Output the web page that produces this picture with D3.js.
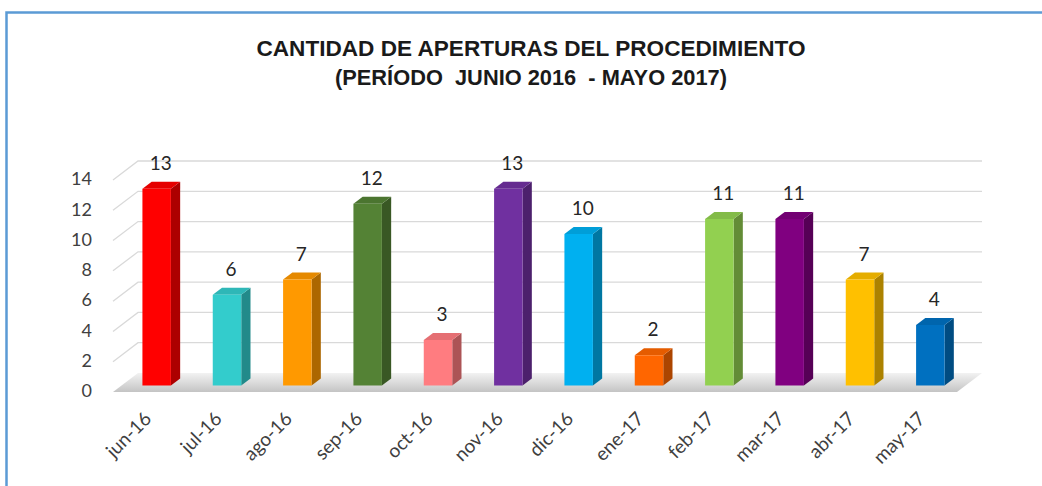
<!DOCTYPE html>
<html>
<head>
<meta charset="utf-8">
<script src="https://cdn.jsdelivr.net/npm/d3@7"></script>
<style>
  body { margin: 0; background: #fff; }
  svg { display: block; }
</style>
</head>
<body>
<script>
// data
var months = ["jun-16","jul-16","ago-16","sep-16","oct-16","nov-16",
              "dic-16","ene-17","feb-17","mar-17","abr-17","may-17"];
var aperturas = [13, 6, 7, 12, 3, 13, 10, 2, 11, 11, 7, 4];
var yTicks = [0, 2, 4, 6, 8, 10, 12, 14];
var barColors = ["#FF0000","#33CCCC","#FF9900","#548235","#FF7C80","#7030A0",
                 "#00B0F0","#FF6600","#92D050","#800080","#FFC000","#0070C0"];
var titleLines = ["CANTIDAD DE APERTURAS DEL PROCEDIMIENTO",
                  "(PERÍODO  JUNIO 2016  - MAYO 2017)"];

var w = 1042, h = 486;
// floor: front-left corner, width, depth vector (front -> back)
var fx = 113, fy = 392, floorW = 844, depX = 25, depY = -19;
var dFront = 0.34, dBack = 0.71; // bar depth position

var svg = d3.select("body").append("svg")
    .attr("width", w)
    .attr("height", h);

svg.append("rect").attr("width", w).attr("height", h).attr("fill", "#fff");

// blue frame
svg.append("path")
    .attr("d", "M6.5," + h + "V12.5H" + w)
    .attr("fill", "none")
    .attr("stroke", "#5B9BD5")
    .attr("stroke-width", 2.5);

// title
svg.selectAll("text.title")
    .data(titleLines)
    .enter().append("text")
    .attr("class", "title")
    .attr("x", 531)
    .attr("y", function(d, i){ return 56 + i*28.5; })
    .attr("text-anchor", "middle")
    .attr("textLength", function(d, i){ return i == 0 ? 549 : 392; })
    .attr("lengthAdjust", "spacingAndGlyphs")
    .style("white-space", "pre")
    .style("font-family", "'Liberation Sans Narrow','Liberation Sans',Arial,sans-serif")
    .style("font-weight", "bold")
    .style("font-size", "22px")
    .style("fill", "#1a1a1a")
    .text(function(d){ return d; });

// scales
var hgt = d3.scaleLinear().domain([0, 14]).range([0, 212]);
var yFront = d3.scaleLinear().domain([0, 14]).range([fy, fy - 212]);
var x = d3.scaleBand().domain(months).range([0, floorW]).padding(0);
var barW = x.bandwidth() * 0.405;

function pt(u, d, v) { // u along x, d depth 0..1, v value height
    return [fx + u + depX*d, fy + depY*d - hgt(v)];
}

// floor
var defs = svg.append("defs");
var grad = defs.append("linearGradient").attr("id", "floorg")
    .attr("x1", 0).attr("y1", 0).attr("x2", 0).attr("y2", 1);
grad.append("stop").attr("offset", "0%").attr("stop-color", "#F2F2F2");
grad.append("stop").attr("offset", "55%").attr("stop-color", "#D9D9D9");
grad.append("stop").attr("offset", "100%").attr("stop-color", "#C4C4C4");

var floorPts = [pt(0,0,0), pt(floorW,0,0), pt(floorW,1,0), pt(0,1,0)];
svg.append("path")
    .attr("d", "M" + floorPts.join("L") + "Z")
    .attr("fill", "url(#floorg)");

// gridlines: side wall diagonal + back wall
var grid = svg.append("g").attr("stroke", "#D9D9D9").attr("stroke-width", 1.3).attr("fill", "none");
grid.selectAll("path")
    .data(yTicks.slice(1))
    .enter().append("path")
    .attr("d", function(v){
        return "M" + [pt(0,0,v), pt(0,1,v), pt(floorW,1,v)].join("L");
    });

// y axis labels
var yAxis = svg.append("g")
    .attr("transform", "translate(92,-1)")
    .call(d3.axisLeft(yFront).tickValues(yTicks).tickSize(0).tickPadding(0));
yAxis.select(".domain").remove();
yAxis.selectAll("text")
    .style("font-family", "Lato, 'Open Sans', sans-serif")
    .style("font-size", "18px")
    .style("fill", "#404040");

// bars
var bars = svg.selectAll("g.bar")
    .data(months.map(function(m, i){ return {m: m, v: aperturas[i], c: barColors[i]}; }))
    .enter().append("g").attr("class", "bar");

function barX0(d) { return x(d.m) + (x.bandwidth() - barW) / 2; }

// side face
bars.append("path")
    .attr("fill", function(d){ return d3.color(d.c).darker(1.1); })
    .attr("d", function(d){
        var u = barX0(d) + barW;
        return "M" + [pt(u,dFront,0), pt(u,dBack,0), pt(u,dBack,d.v), pt(u,dFront,d.v)].join("L") + "Z";
    });
// top face
bars.append("path")
    .attr("fill", function(d){ return d3.color(d.c).darker(0.3); })
    .attr("d", function(d){
        var u = barX0(d);
        return "M" + [pt(u,dFront,d.v), pt(u+barW,dFront,d.v), pt(u+barW,dBack,d.v), pt(u,dBack,d.v)].join("L") + "Z";
    });
// front face
bars.append("path")
    .attr("fill", function(d){ return d.c; })
    .attr("d", function(d){
        var u = barX0(d);
        return "M" + [pt(u,dFront,0), pt(u+barW,dFront,0), pt(u+barW,dFront,d.v), pt(u,dFront,d.v)].join("L") + "Z";
    });

// value labels
bars.append("text")
    .attr("x", function(d){ return pt(x(d.m) + x.bandwidth()/2, 0.5, d.v)[0]; })
    .attr("y", function(d){ return pt(0, dBack, d.v)[1] - 12; })
    .attr("text-anchor", "middle")
    .style("font-family", "Lato, 'Open Sans', sans-serif")
    .style("font-size", "19px")
    .style("fill", "#262626")
    .text(function(d){ return d.v; });

// x labels
var xAxis = svg.append("g")
    .attr("transform", "translate(" + (fx + depX*dFront - 4) + ",420)")
    .call(d3.axisBottom(x).tickSize(0).tickPadding(0));
xAxis.select(".domain").remove();
xAxis.selectAll("text")
    .attr("y", 0)
    .attr("dy", 0)
    .attr("text-anchor", "end")
    .attr("transform", "rotate(-45)")
    .style("font-family", "Lato, 'Open Sans', sans-serif")
    .style("font-size", "19px")
    .style("fill", "#404040");
</script>
</body>
</html>
